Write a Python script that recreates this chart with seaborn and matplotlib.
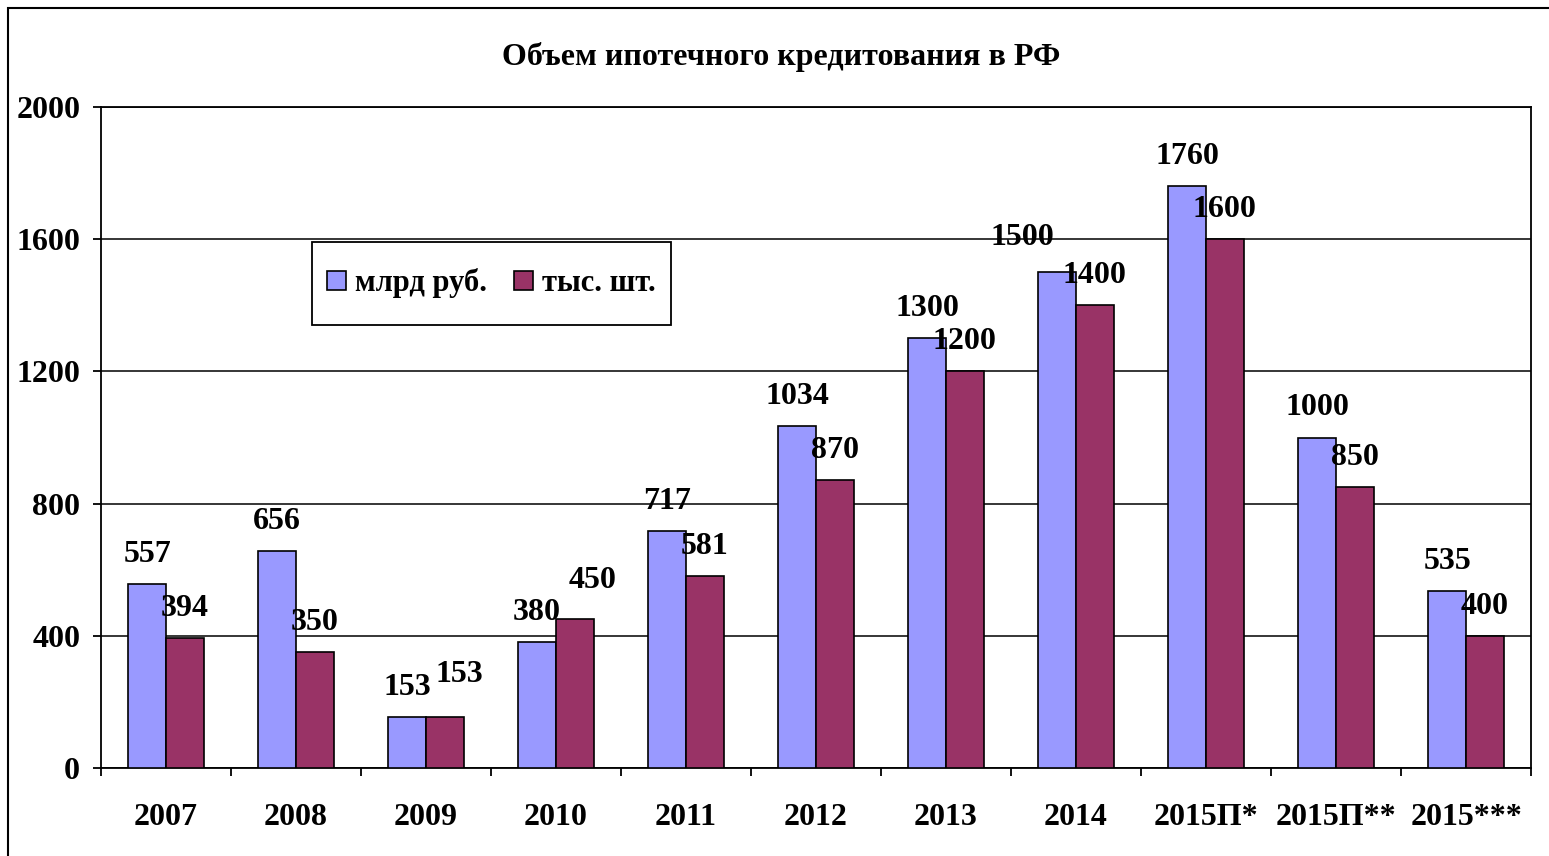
import matplotlib
matplotlib.use("Agg")
import matplotlib.pyplot as plt
import pandas as pd
import seaborn as sns
from matplotlib.patches import Rectangle, Patch

# данные с графика
years = ['2007', '2008', '2009', '2010', '2011', '2012', '2013', '2014',
         '2015П*', '2015П**', '2015***']
mlrd_rub = [557, 656, 153, 380, 717, 1034, 1300, 1500, 1760, 1000, 535]
tys_sht = [394, 350, 153, 450, 581, 870, 1200, 1400, 1600, 850, 400]
series = ['млрд руб.', 'тыс. шт.']
colors = ['#9999FF', '#993366']

df = pd.DataFrame({
    'year': years * 2,
    'value': mlrd_rub + tys_sht,
    'series': [series[0]] * len(years) + [series[1]] * len(years),
})

sns.set_style('white')
plt.rcParams['font.family'] = ['Liberation Serif', 'DejaVu Serif']
plt.rcParams['font.weight'] = 'bold'
for k in ['text.color', 'axes.labelcolor', 'xtick.color', 'ytick.color']:
    plt.rcParams[k] = 'black'

fig = plt.figure(figsize=(15.49, 8.56), dpi=100)
ax = fig.add_axes([101 / 1549, 1 - 768 / 856, 1430 / 1549, 661 / 856])

sns.barplot(data=df, x='year', y='value', hue='series', order=years,
            hue_order=series, palette=colors, width=0.58, gap=0,
            edgecolor='black', linewidth=1.2, saturation=1, ax=ax,
            legend=False, zorder=3)

# подписи значений, несколько сдвинуты как в оригинале (сдвиг в px)
shifts = {(1, '2009'): (15, 13), (1, '2010'): (18, 9), (0, '2014'): (-35, 5)}
for si, cont in enumerate(ax.containers):
    anns = ax.bar_label(cont, fmt='%d', padding=11, fontsize=23,
                        fontweight='bold', color='black')
    for yr, ann in zip(years, anns):
        if (si, yr) in shifts:
            dx, dy = shifts[(si, yr)]
            ann.xyann = (dx * 0.72, 11 + dy * 0.72)

ax.set_xlim(-0.5, len(years) - 0.5)
ax.set_ylim(0, 2000)
ax.set_yticks(range(0, 2001, 400))
ax.yaxis.grid(True, color='black', linewidth=1.1, zorder=0)
ax.set_axisbelow(True)
ax.set_xlabel('')
ax.set_ylabel('')

for s in ax.spines.values():
    s.set_color('black')
    s.set_linewidth(1.3)

ax.set_xticks([i - 0.5 for i in range(len(years) + 1)], minor=True)
ax.tick_params(axis='x', which='major', length=0, pad=25, labelsize=23)
ax.tick_params(axis='x', which='minor', length=6, width=1.3, direction='out',
               color='black', bottom=True)
ax.tick_params(axis='y', length=6, width=1.3, direction='out', color='black',
               left=True, pad=9, labelsize=23)
for lab in ax.get_xticklabels() + ax.get_yticklabels():
    lab.set_fontweight('bold')

# рамка легенды отдельно, сама легенда без рамки
lx0, lx1 = (312 - 101) / 1430, (671 - 101) / 1430
ly0, ly1 = (768 - 325) / 661, (768 - 242) / 661
ax.add_patch(Rectangle((lx0, ly0), lx1 - lx0, ly1 - ly0, transform=ax.transAxes,
                       facecolor='white', edgecolor='black', linewidth=1.3,
                       zorder=5))
handles = [Patch(facecolor=c, edgecolor='black', linewidth=1.2) for c in colors]
leg = ax.legend(handles, series, loc='center',
                bbox_to_anchor=((lx0 + lx1) / 2, (ly0 + ly1) / 2),
                ncol=2, frameon=False, fontsize=22,
                handlelength=0.6, handleheight=0.6, handletextpad=0.3,
                columnspacing=0.9, borderpad=0, borderaxespad=0)
leg.set_zorder(6)
for t in leg.get_texts():
    t.set_fontweight('bold')

fig.text(781 / 1549, 1 - 57 / 856, 'Объем ипотечного кредитования в РФ',
         ha='center', va='center', fontsize=23, fontweight='bold')

# рамка области диаграммы
fig.add_artist(Rectangle((8 / 1549, -0.05), 1.2, 1 - 8 / 856 + 0.05,
                         transform=fig.transFigure, fill=False,
                         edgecolor='black', linewidth=1.5))

fig.savefig('out.png', dpi=100)
